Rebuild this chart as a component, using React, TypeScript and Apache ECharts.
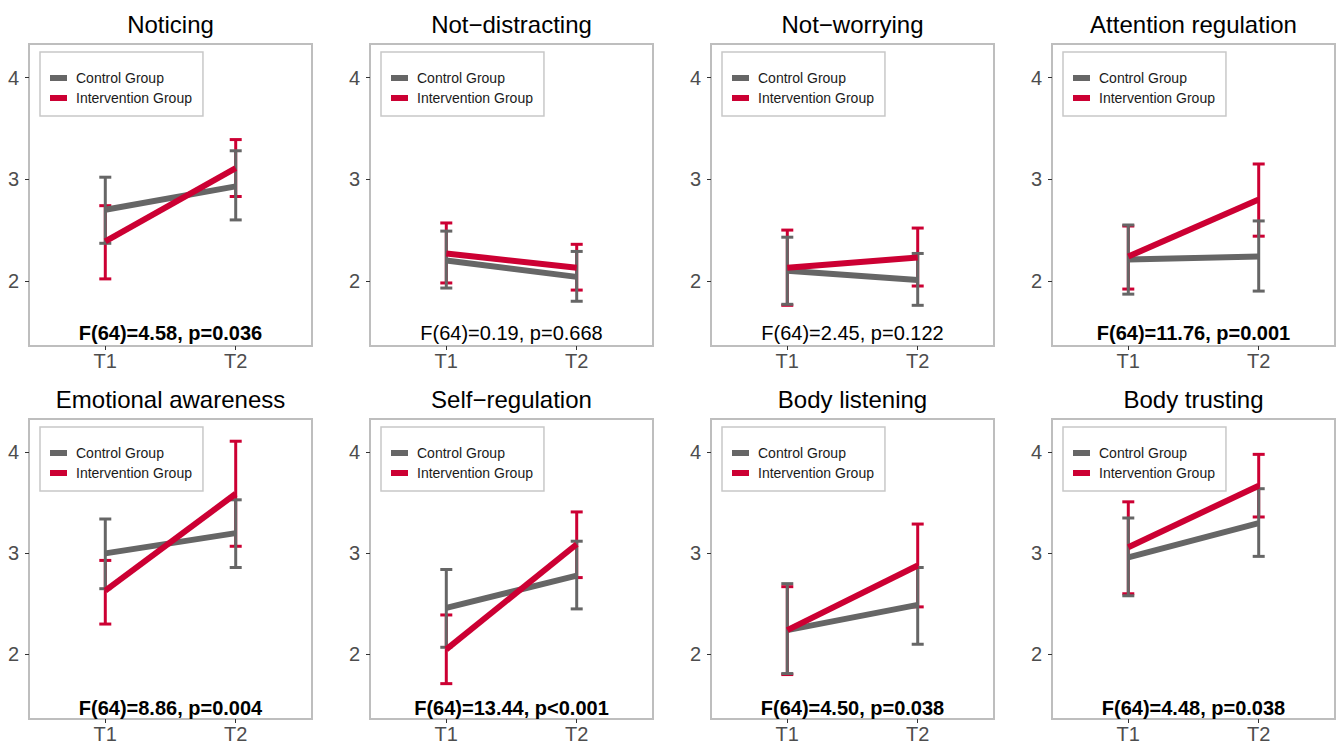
import React, { useEffect, useRef } from "react";
import * as echarts from "echarts";

const timePoints = ["T1", "T2"];
const panelTitles = [
  "Noticing",
  "Not\u2212distracting",
  "Not\u2212worrying",
  "Attention regulation",
  "Emotional awareness",
  "Self\u2212regulation",
  "Body listening",
  "Body trusting",
];
const statLabels = [
  "F(64)=4.58, p=0.036",
  "F(64)=0.19, p=0.668",
  "F(64)=2.45, p=0.122",
  "F(64)=11.76, p=0.001",
  "F(64)=8.86, p=0.004",
  "F(64)=13.44, p<0.001",
  "F(64)=4.50, p=0.038",
  "F(64)=4.48, p=0.038",
];
const significant = [true, false, false, true, true, true, true, true];

const controlMean = [
  [2.7, 2.93], [2.2, 2.04], [2.1, 2.01], [2.21, 2.24],
  [3.0, 3.2], [2.46, 2.78], [2.24, 2.49], [2.96, 3.3],
];
const controlLow = [
  [2.37, 2.6], [1.93, 1.8], [1.77, 1.76], [1.87, 1.9],
  [2.65, 2.86], [2.07, 2.45], [1.81, 2.1], [2.58, 2.97],
];
const controlHigh = [
  [3.02, 3.28], [2.49, 2.29], [2.43, 2.27], [2.55, 2.59],
  [3.34, 3.53], [2.84, 3.12], [2.7, 2.86], [3.35, 3.64],
];
const interventionMean = [
  [2.39, 3.11], [2.27, 2.13], [2.13, 2.23], [2.24, 2.8],
  [2.63, 3.59], [2.05, 3.09], [2.24, 2.88], [3.06, 3.67],
];
const interventionLow = [
  [2.02, 2.83], [1.98, 1.91], [1.76, 1.95], [1.92, 2.44],
  [2.3, 3.07], [1.71, 2.76], [1.8, 2.47], [2.6, 3.36],
];
const interventionHigh = [
  [2.74, 3.39], [2.57, 2.36], [2.5, 2.52], [2.54, 3.15],
  [2.93, 4.11], [2.39, 3.41], [2.67, 3.29], [3.51, 3.98],
];
const yTicks = [2, 3, 4];

const GRAY = "#666666";
const RED = "#CC0033";
const FONT = "Liberation Sans, Arial, Helvetica, sans-serif";

const W = 1338;
const H = 744;
const GRID_LEFTS = [29, 370, 711, 1052];
const GRID_TOPS = [44, 419];
const GRID_W = 283;
const GRID_H = 302;

function errorBarRender(color: string) {
  return (params: any, api: any) => {
    const x = api.value(0);
    const lo = api.coord([x, api.value(1)]);
    const hi = api.coord([x, api.value(2)]);
    const hw = 6;
    const style = { stroke: color, lineWidth: 3 };
    return {
      type: "group",
      children: [
        { type: "line", shape: { x1: lo[0], y1: lo[1], x2: hi[0], y2: hi[1] }, style },
        { type: "line", shape: { x1: lo[0] - hw, y1: lo[1], x2: lo[0] + hw, y2: lo[1] }, style },
        { type: "line", shape: { x1: hi[0] - hw, y1: hi[1], x2: hi[0] + hw, y2: hi[1] }, style },
      ],
    };
  };
}

export default function App() {
  const ref = useRef<HTMLDivElement>(null);
  useEffect(() => {
    if (!ref.current) return;
    const chart = echarts.init(ref.current, undefined, { renderer: "svg" });
    const grids: any[] = [];
    const xAxes: any[] = [];
    const yAxes: any[] = [];
    const series: any[] = [];
    const legends: any[] = [];
    const graphics: any[] = [];

    panelTitles.forEach((title, i) => {
      const col = i % 4;
      const row = Math.floor(i / 4);
      const left = GRID_LEFTS[col];
      const top = GRID_TOPS[row];
      grids.push({
        left,
        top,
        width: GRID_W,
        height: GRID_H,
        show: true,
        borderColor: "#BEBEBE",
        borderWidth: 2,
        backgroundColor: "#ffffff",
        containLabel: false,
      });
      xAxes.push({
        type: "value",
        gridIndex: i,
        min: 0.415,
        max: 2.585,
        axisLine: { show: false },
        splitLine: { show: false },
        axisTick: {
          show: true,
          customValues: [1, 2],
          length: 4,
          lineStyle: { color: "#333333", width: 1 },
        },
        axisLabel: {
          customValues: [1, 2],
          formatter: (v: number) => timePoints[Math.round(v) - 1] ?? "",
          color: "#4D4D4D",
          fontSize: 20,
          fontFamily: FONT,
          margin: 5,
        },
      });
      yAxes.push({
        type: "value",
        gridIndex: i,
        min: 1.36,
        max: 4.33,
        axisLine: { show: false },
        splitLine: { show: false },
        axisTick: {
          show: true,
          customValues: yTicks,
          length: 4,
          lineStyle: { color: "#333333", width: 1 },
        },
        axisLabel: {
          customValues: yTicks,
          color: "#4D4D4D",
          fontSize: 20,
          fontFamily: FONT,
          margin: 10,
        },
      });
      const ctrlLine = timePoints.map((_, k) => [k + 1, controlMean[i][k]]);
      const intLine = timePoints.map((_, k) => [k + 1, interventionMean[i][k]]);
      const ctrlErr = timePoints.map((_, k) => [k + 1, controlLow[i][k], controlHigh[i][k]]);
      const intErr = timePoints.map((_, k) => [k + 1, interventionLow[i][k], interventionHigh[i][k]]);
      series.push(
        {
          type: "line",
          name: "Control Group",
          xAxisIndex: i,
          yAxisIndex: i,
          data: ctrlLine,
          symbol: "none",
          lineStyle: { color: GRAY, width: 6 },
          itemStyle: { color: GRAY },
          silent: true,
        },
        {
          type: "line",
          name: "Intervention Group",
          xAxisIndex: i,
          yAxisIndex: i,
          data: intLine,
          symbol: "none",
          lineStyle: { color: RED, width: 6 },
          itemStyle: { color: RED },
          silent: true,
        },
        {
          type: "custom",
          name: "Intervention Group",
          xAxisIndex: i,
          yAxisIndex: i,
          data: intErr,
          encode: { x: 0, y: [1, 2] },
          renderItem: errorBarRender(RED),
          itemStyle: { color: RED },
          silent: true,
        },
        {
          type: "custom",
          name: "Control Group",
          xAxisIndex: i,
          yAxisIndex: i,
          data: ctrlErr,
          encode: { x: 0, y: [1, 2] },
          renderItem: errorBarRender(GRAY),
          itemStyle: { color: GRAY },
          silent: true,
        }
      );
      legends.push({
        left: left + 11,
        top: top + 8,
        orient: "vertical",
        selectedMode: false,
        backgroundColor: "#ffffff",
        borderColor: "#C8C8C8",
        borderWidth: 1.5,
        padding: [19, 11, 11, 10],
        itemGap: 6,
        itemWidth: 17,
        itemHeight: 6,
        icon: "rect",
        textStyle: { fontSize: 14, fontFamily: FONT, color: "#1a1a1a", padding: [0, 0, 0, 4] },
        data: [
          { name: "Control Group", itemStyle: { color: GRAY } },
          { name: "Intervention Group", itemStyle: { color: RED } },
        ],
      });
      graphics.push({
        type: "text",
        x: left + GRID_W / 2,
        y: top - 20,
        silent: true,
        style: {
          text: title,
          fontSize: 24,
          fontFamily: FONT,
          fill: "#000000",
          align: "center",
          verticalAlign: "middle",
        },
      });
      graphics.push({
        type: "text",
        x: left + GRID_W / 2,
        y: top + GRID_H - 13,
        silent: true,
        z: 100,
        style: {
          text: statLabels[i],
          fontSize: 20,
          fontWeight: significant[i] ? "bold" : "normal",
          fontFamily: FONT,
          fill: "#000000",
          align: "center",
          verticalAlign: "middle",
        },
      });
    });

    chart.setOption({
      animation: false,
      backgroundColor: "#ffffff",
      grid: grids,
      xAxis: xAxes,
      yAxis: yAxes,
      legend: legends,
      series,
      graphic: graphics,
    });
    return () => chart.dispose();
  }, []);
  return (
    <div
      ref={ref}
      style={{ position: "absolute", left: 0, top: 0, width: W, height: H }}
    />
  );
}
